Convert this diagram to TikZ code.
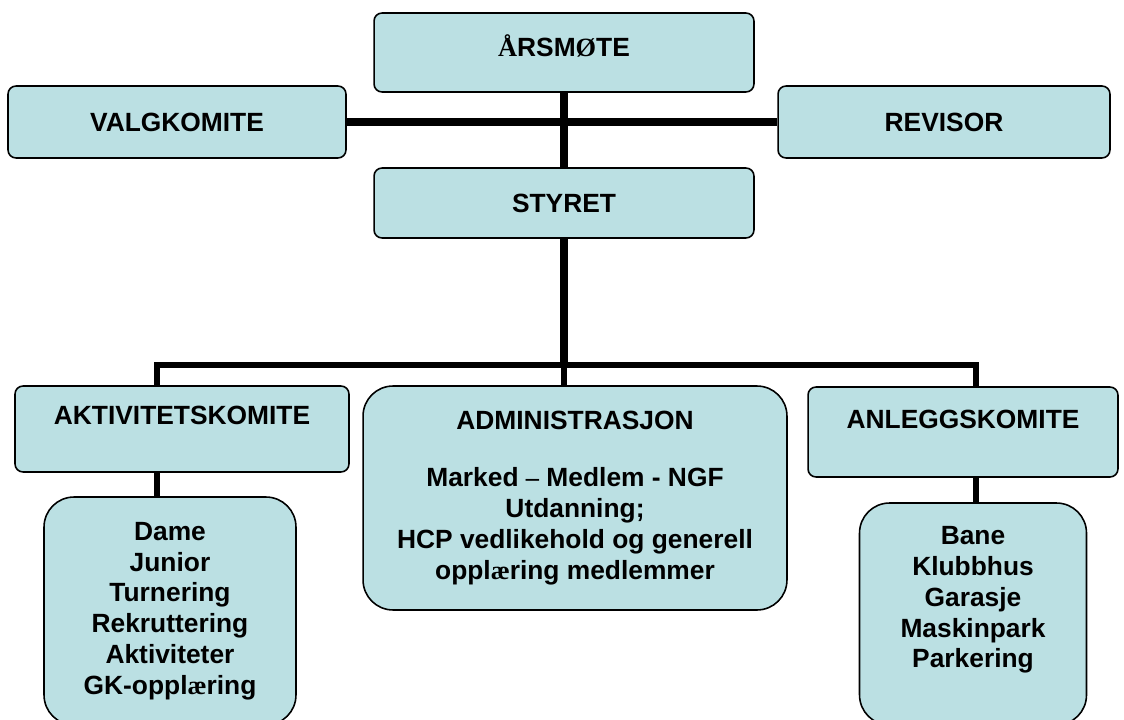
\documentclass[tikz,border=0pt]{standalone}
\usepackage{fontspec}
\setmainfont{Liberation Sans}
\newfontfamily\oddfont{Liberation Serif}
\usepackage{tikz}
\usepackage{xcolor}
\usetikzlibrary{calc, positioning}
\definecolor{boxfill}{RGB}{187,224,227}
\newcommand{\odd}[1]{{\oddfont\bfseries #1}}

\begin{document}
\begin{tikzpicture}[x=0.02cm, y=-0.02cm,
    every node/.style={font=\fontsize{15}{17.5}\selectfont\bfseries},
    every label/.style={inner sep=0pt},
    box/.style={draw, fill=boxfill, rounded corners=0.16cm, inner sep=0pt, align=center, line width=0.9pt},
    bigbox/.style={box, rounded corners=0.6cm},
    stem/.style={line width=4pt},
    trunk/.style={line width=3.2pt}]
                        \useasboundingbox (0, 0) rectangle (1124, 719);

                        \node[box, minimum width=7.6cm, minimum height=1.58cm,
                              label={[anchor=north, yshift=-0.44cm]north:\odd{Å}RSM\odd{Ø}TE}]
                              (aarsmote) at (564, 52.5) {};
                        \node[box, minimum width=7.6cm, minimum height=1.4cm] (styret) at (564, 203) {STYRET};
                        \node[box, minimum width=6.76cm, minimum height=1.44cm] (valg) at (177, 122) {VALGKOMITE};
                        \node[box, minimum width=6.64cm, minimum height=1.44cm] (revisor) at (944, 122) {REVISOR};

                        \node[box, minimum width=6.68cm, minimum height=1.72cm,
                              label={[anchor=north, yshift=-0.42cm]north:AKTIVITETSKOMITE}]
                              (aktiv) at (182, 429) {};
                        \node[box, minimum width=6.2cm, minimum height=1.8cm,
                              label={[anchor=north, yshift=-0.47cm]north:ANLEGGSKOMITE}]
                              (anlegg) at (963, 432) {};
                        \node[bigbox, minimum width=8.48cm, minimum height=4.48cm] (admin) at (575, 498)
                              {ADMINISTRASJON\\[15pt]
                               Marked \odd{–} Medlem - NGF\\
                               Utdanning;\\
                               HCP vedlikehold og generell\\
                               oppl\odd{æ}ring medlemmer};
                        \node[bigbox, minimum width=5.04cm, minimum height=4.56cm] (dame) at (170, 611)
                              {Dame\\Junior\\Turnering\\Rekruttering\\Aktiviteter\\GK-oppl\odd{æ}ring};
                        \node[bigbox, minimum width=4.54cm, minimum height=4.44cm,
                              label={[align=center, yshift=0.28cm]center:Bane\\Klubbhus\\Garasje\\Maskinpark\\Parkering}]
                              (bane) at (973, 614) {};

                        \coordinate (lt) at (157, 365);
                        \coordinate (rt) at (976, 365);

                        \draw[stem] (aarsmote.south) -- (styret.north);
                        \draw[stem] (valg.east) -- (revisor.west);
                        \draw[stem] (styret.south) -- (styret.south |- lt);
                        \draw[trunk] (styret.south |- lt) -- (styret.south |- admin.north);
                        \draw[trunk] (lt |- aktiv.north) -- (lt) -- (rt) -- (rt |- anlegg.north);
                        \draw[trunk] (lt |- aktiv.south) -- (lt |- dame.north);
                        \draw[trunk] (rt |- anlegg.south) -- (rt |- bane.north);
                    \end{tikzpicture}
\end{document}
